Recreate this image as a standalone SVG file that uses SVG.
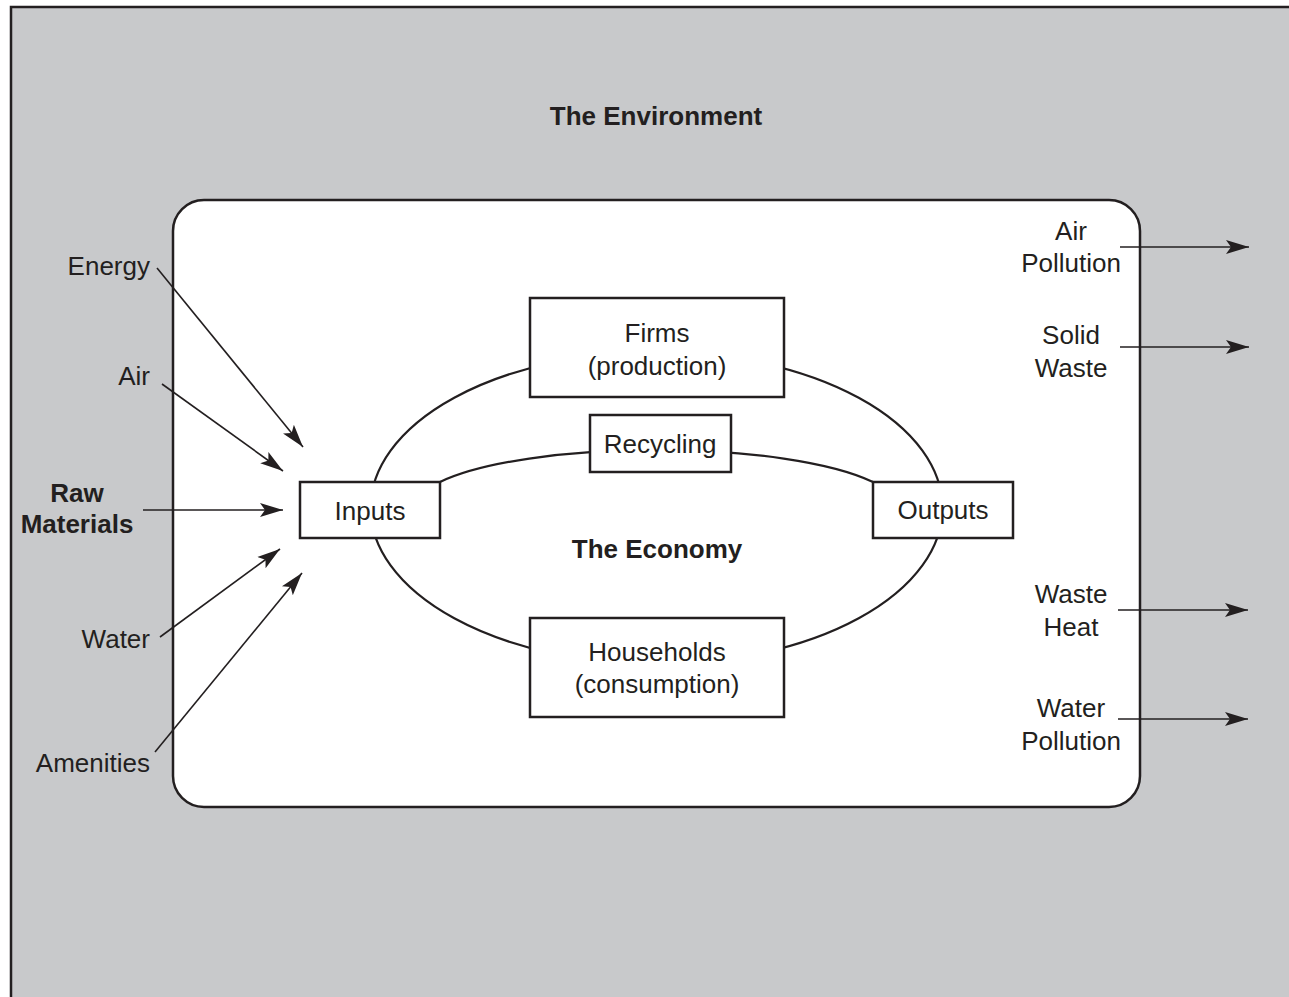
<svg xmlns="http://www.w3.org/2000/svg" width="1289" height="997" viewBox="0 0 1289 997">
  <style>
    text { font-family: "Liberation Sans", Arial, sans-serif; font-size: 26px; fill: #231f20; }
    .b { font-weight: bold; }
    .m { text-anchor: middle; }
    .e { text-anchor: end; }
    .box { fill: #ffffff; stroke: #231f20; stroke-width: 2.5; }
    .conn { stroke: #231f20; stroke-width: 1.6; fill: none; marker-end: url(#arr); }
    .loop { stroke: #231f20; stroke-width: 2.2; fill: none; }
  </style>
  <defs>
    <marker id="arr" markerUnits="userSpaceOnUse" markerWidth="24" markerHeight="16" refX="23" refY="7" orient="auto" viewBox="0 0 24 14">
      <path d="M0,0 L23,7 L0,14 L5,7 z" fill="#231f20"/>
    </marker>
  </defs>

  <rect x="0" y="0" width="1289" height="997" fill="#ffffff"/>
  <g id="environment">
    <rect x="11" y="7" width="1300" height="1010" fill="#c8c9cb" stroke="#231f20" stroke-width="2.5"/>
    <text class="b m" x="656" y="125">The Environment</text>
  </g>

  <g id="economy-frame">
    <rect x="173" y="200" width="967" height="607" rx="31" ry="31" fill="#ffffff" stroke="#231f20" stroke-width="2.5"/>
  </g>

  <g id="loops">
    <ellipse cx="656.5" cy="508" rx="286" ry="156" class="loop"/>
    <path d="M440,482 A242,58 0 0 1 873,482" class="loop"/>
  </g>

  <g id="connectors">
    <line x1="157" y1="268" x2="303" y2="447" class="conn"/>
    <line x1="162" y1="384" x2="283" y2="471" class="conn"/>
    <line x1="143" y1="510" x2="283" y2="510" class="conn"/>
    <line x1="160" y1="637" x2="280" y2="549" class="conn"/>
    <line x1="155" y1="752" x2="302" y2="573" class="conn"/>
    <line x1="1120" y1="247" x2="1249" y2="247" class="conn"/>
    <line x1="1120" y1="347" x2="1249" y2="347" class="conn"/>
    <line x1="1118" y1="610" x2="1248" y2="610" class="conn"/>
    <line x1="1118" y1="719" x2="1248" y2="719" class="conn"/>
  </g>

  <g id="label-energy"><text class="e" x="150" y="275">Energy</text></g>
  <g id="label-air"><text class="e" x="150" y="385">Air</text></g>
  <g id="label-raw"><text class="b m" x="77" y="502">Raw</text><text class="b m" x="77" y="533">Materials</text></g>
  <g id="label-water"><text class="e" x="150" y="648">Water</text></g>
  <g id="label-amenities"><text class="e" x="150" y="772">Amenities</text></g>

  <g id="inputs">
    <rect x="300" y="482" width="140" height="56" class="box"/>
    <text class="m" x="370" y="520">Inputs</text>
  </g>
  <g id="firms">
    <rect x="530" y="298" width="254" height="99" class="box"/>
    <text class="m" x="657" y="342">Firms</text>
    <text class="m" x="657" y="375">(production)</text>
  </g>
  <g id="recycling">
    <rect x="590" y="415" width="141" height="57" class="box"/>
    <text class="m" x="660" y="453">Recycling</text>
  </g>
  <g id="economy-label">
    <text class="b m" x="657" y="558">The Economy</text>
  </g>
  <g id="households">
    <rect x="530" y="618" width="254" height="99" class="box"/>
    <text class="m" x="657" y="661">Households</text>
    <text class="m" x="657" y="693">(consumption)</text>
  </g>
  <g id="outputs">
    <rect x="873" y="482" width="140" height="56" class="box"/>
    <text class="m" x="943" y="519">Outputs</text>
  </g>

  <g id="label-air-pollution"><text class="m" x="1071" y="240">Air</text><text class="m" x="1071" y="272">Pollution</text></g>
  <g id="label-solid-waste"><text class="m" x="1071" y="344">Solid</text><text class="m" x="1071" y="377">Waste</text></g>
  <g id="label-waste-heat"><text class="m" x="1071" y="603">Waste</text><text class="m" x="1071" y="636">Heat</text></g>
  <g id="label-water-pollution"><text class="m" x="1071" y="717">Water</text><text class="m" x="1071" y="750">Pollution</text></g>
</svg>
